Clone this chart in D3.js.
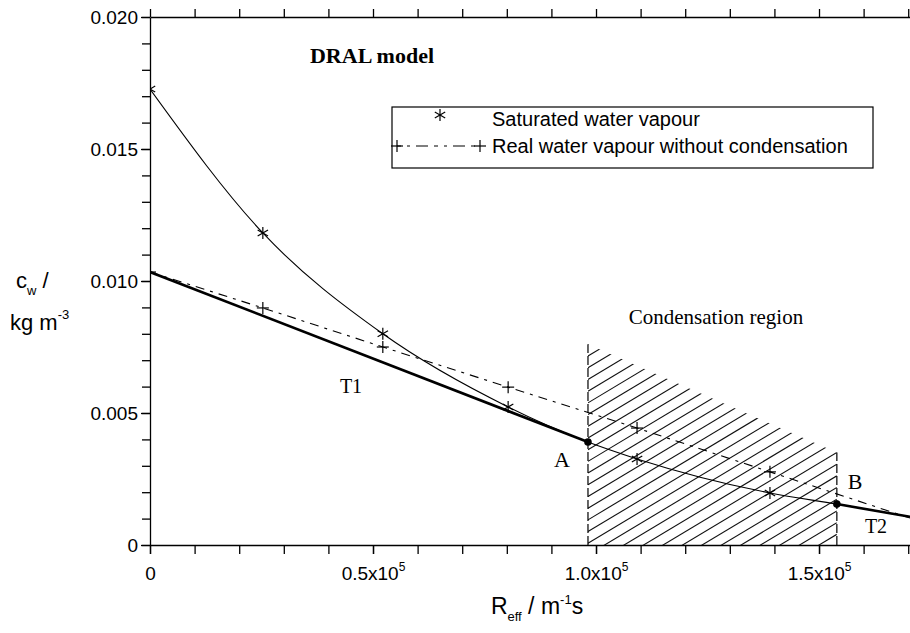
<!DOCTYPE html>
<html>
<head>
<meta charset="utf-8">
<script src="https://cdn.jsdelivr.net/npm/d3@7"></script>
<style>
body { margin: 0; background: #fff; }
svg { display: block; }
</style>
</head>
<body>
<div id="chart"></div>
<script>
// values
var satX = [0, 25300, 52200, 80300, 109200, 139000];
var satY = [0.01727, 0.01182, 0.00800, 0.00523, 0.00326, 0.00197];
var realX = [0, 25300, 52200, 80300, 109200, 139000, 170400];
var realY = [0.01034, 0.00898, 0.00750, 0.00598, 0.00443, 0.00277, 0.00102];
var pointNames = ["A", "B"];
var pointX = [98200, 154000];
var pointY = [0.00390, 0.00155];
var t1Start = [0, 0.01034];
var t2End = [170400, 0.00107];
var hatchTop = [0.0076, 0.0035];   // top of the hatched area at A and at B
var yTicks = [0, 0.005, 0.010, 0.015, 0.020];
var yTickLabels = ["0", "0.005", "0.010", "0.015", "0.020"];
var xTicks = [0, 50000, 100000, 150000];
var xTickLabels = ["0", "0.5x10", "1.0x10", "1.5x10"];
var xTickExp = ["", "5", "5", "5"];

var width = 910, height = 633;
var sans = "'Liberation Sans', Arial, sans-serif";
var serif = "'Liberation Serif', 'Times New Roman', serif";

var x = d3.scaleLinear().domain([0, 170400]).range([150, 910]);
var y = d3.scaleLinear().domain([0, 0.02]).range([545, 17]);

var svg = d3.select("#chart").append("svg")
    .attr("width", width)
    .attr("height", height);

svg.append("clipPath").attr("id", "plot")
    .append("rect")
    .attr("x", 150).attr("y", 17)
    .attr("width", 760).attr("height", 528);

var minorX = d3.range(0, 170001, 10000);
var minorY = d3.range(0, 0.02001, 0.001);

function styleAxis(g) {
    g.selectAll("path, line").attr("stroke", "#000").attr("stroke-width", 1.3);
    g.attr("font-family", sans).attr("font-size", 19);
    g.selectAll("text").attr("fill", "#000");
}

// top frame with small ticks
svg.append("g")
    .attr("transform", "translate(0,17)")
    .call(d3.axisTop(x).tickValues(minorX).tickSize(8).tickSizeOuter(0).tickFormat(""))
    .call(styleAxis);

// bottom axis
svg.append("g")
    .attr("transform", "translate(0,545)")
    .call(d3.axisBottom(x).tickValues(minorX).tickSize(9).tickSizeOuter(0).tickFormat(""))
    .call(styleAxis);

var xAxis = svg.append("g")
    .attr("transform", "translate(0,545)")
    .call(d3.axisBottom(x).tickValues(xTicks).tickSize(9).tickSizeOuter(0)
        .tickFormat(function (d, i) { return xTickLabels[i]; }))
    .call(styleAxis);
xAxis.select(".domain").remove();
xAxis.selectAll("text")
    .attr("y", 35).attr("dy", 0)
    .each(function (d, i) {
        if (xTickExp[i]) {
            d3.select(this).append("tspan")
                .attr("font-size", 12)
                .attr("dy", -9)
                .text(xTickExp[i]);
        }
    });

// left axis
svg.append("g")
    .attr("transform", "translate(150,0)")
    .call(d3.axisLeft(y).tickValues(minorY).tickSize(8).tickSizeOuter(0).tickFormat(""))
    .call(styleAxis);

var yAxis = svg.append("g")
    .attr("transform", "translate(150,0)")
    .call(d3.axisLeft(y).tickValues(yTicks).tickSize(9).tickSizeOuter(0)
        .tickFormat(function (d, i) { return yTickLabels[i]; }))
    .call(styleAxis);
yAxis.select(".domain").remove();
yAxis.selectAll("text").attr("x", -12);

var plot = svg.append("g").attr("clip-path", "url(#plot)");

// hatched condensation region
var xa = x(pointX[0]), xb = x(pointX[1]);
svg.append("clipPath").attr("id", "hatch")
    .append("path")
    .attr("d", d3.line()([[xa, y(0)], [xa, y(hatchTop[0])], [xb, y(hatchTop[1])], [xb, y(0)]]) + "Z");

var slope = 0.6, gap = 11.7;
var hatchLines = d3.range(-1, 32).map(function (k) {
    var c = y(hatchTop[0]) + k * gap;
    return [xa, c, xb, c - slope * (xb - xa)];
});
plot.append("g")
    .attr("clip-path", "url(#hatch)")
    .selectAll("line")
    .data(hatchLines)
    .enter()
    .append("line")
    .attr("x1", function (d) { return d[0]; })
    .attr("y1", function (d) { return d[1]; })
    .attr("x2", function (d) { return d[2]; })
    .attr("y2", function (d) { return d[3]; })
    .attr("stroke", "#111")
    .attr("stroke-width", 1.1);

plot.selectAll(".border")
    .data([[pointX[0], hatchTop[0]], [pointX[1], hatchTop[1]]])
    .enter()
    .append("line")
    .attr("x1", function (d) { return x(d[0]); })
    .attr("x2", function (d) { return x(d[0]); })
    .attr("y1", y(0))
    .attr("y2", function (d) { return y(d[1]); })
    .attr("stroke", "#000")
    .attr("stroke-width", 1.2)
    .attr("stroke-dasharray", "9,3");

// saturated vapour curve passes through A, B and runs out with T2
var satCurve = satX.map(function (v, i) { return [v, satY[i]]; })
    .concat(pointX.map(function (v, i) { return [v, pointY[i]]; }))
    .concat([t2End])
    .sort(function (a, b) { return a[0] - b[0]; });

var line = d3.line()
    .x(function (d) { return x(d[0]); })
    .y(function (d) { return y(d[1]); });

plot.append("path")
    .datum(satCurve)
    .attr("d", line.curve(d3.curveMonotoneX))
    .attr("fill", "none")
    .attr("stroke", "#000")
    .attr("stroke-width", 1.1);

var realPts = realX.map(function (v, i) { return [v, realY[i]]; });
plot.append("path")
    .datum(realPts)
    .attr("d", line.curve(d3.curveLinear))
    .attr("fill", "none")
    .attr("stroke", "#000")
    .attr("stroke-width", 1.1)
    .attr("stroke-dasharray", "9,6,3,6");

// thick lines T1 and T2
plot.selectAll(".thick")
    .data([[t1Start, [pointX[0], pointY[0]]], [[pointX[1], pointY[1]], t2End]])
    .enter()
    .append("path")
    .attr("d", line.curve(d3.curveLinear))
    .attr("fill", "none")
    .attr("stroke", "#000")
    .attr("stroke-width", 2.6);

// markers
function asterisk(g, cx, cy) {
    var r = 6;
    [90, 30, -30].forEach(function (a) {
        var dx = r * Math.cos(a * Math.PI / 180), dy = r * Math.sin(a * Math.PI / 180);
        g.append("line")
            .attr("x1", cx - dx).attr("y1", cy - dy)
            .attr("x2", cx + dx).attr("y2", cy + dy)
            .attr("stroke", "#000").attr("stroke-width", 1.2);
    });
}
function plus(g, cx, cy) {
    var r = 6;
    g.append("line").attr("x1", cx - r).attr("x2", cx + r).attr("y1", cy).attr("y2", cy)
        .attr("stroke", "#000").attr("stroke-width", 1.2);
    g.append("line").attr("x1", cx).attr("x2", cx).attr("y1", cy - r).attr("y2", cy + r)
        .attr("stroke", "#000").attr("stroke-width", 1.2);
}
satX.forEach(function (v, i) { asterisk(plot, x(v), y(satY[i])); });
realX.slice(0, -1).forEach(function (v, i) { plus(plot, x(v), y(realY[i])); });

plot.selectAll(".pt")
    .data(pointX)
    .enter()
    .append("circle")
    .attr("cx", function (d) { return x(d); })
    .attr("cy", function (d, i) { return y(pointY[i]); })
    .attr("r", 3.8)
    .attr("fill", "#000");

// labels inside the plot
var labels = [
    {t: "DRAL model", x: 372, y: 63, size: 22, weight: "bold"},
    {t: "Condensation region", x: 716, y: 324, size: 21},
    {t: "T1", x: 351, y: 393, size: 20},
    {t: pointNames[0], x: 562, y: 467, size: 22},
    {t: pointNames[1], x: 855, y: 489, size: 22},
    {t: "T2", x: 876, y: 533, size: 20}
];
svg.selectAll(".lbl")
    .data(labels)
    .enter()
    .append("text")
    .attr("x", function (d) { return d.x; })
    .attr("y", function (d) { return d.y; })
    .attr("text-anchor", "middle")
    .attr("font-family", serif)
    .attr("font-size", function (d) { return d.size; })
    .attr("font-weight", function (d) { return d.weight || "normal"; })
    .text(function (d) { return d.t; });

// legend
var legend = svg.append("g");
legend.append("rect")
    .attr("x", 392).attr("y", 107)
    .attr("width", 481).attr("height", 61)
    .attr("fill", "#fff")
    .attr("stroke", "#000")
    .attr("stroke-width", 1.2);
asterisk(legend, 440, 115);
legend.append("line")
    .attr("x1", 397).attr("x2", 480).attr("y1", 146).attr("y2", 146)
    .attr("stroke", "#000").attr("stroke-width", 1.1)
    .attr("stroke-dasharray", "4,6,3,6,12,6");
plus(legend, 397, 146);
plus(legend, 480, 146);
legend.selectAll("text")
    .data(["Saturated water vapour", "Real water vapour without condensation"])
    .enter()
    .append("text")
    .attr("x", 492)
    .attr("y", function (d, i) { return 126 + i * 27; })
    .attr("font-family", sans)
    .attr("font-size", 20)
    .text(function (d) { return d; });

// axis titles
var yt = svg.append("text").attr("font-family", sans).attr("font-size", 22)
    .attr("x", 16).attr("y", 288);
yt.append("tspan").text("c");
yt.append("tspan").attr("font-size", 13).attr("dy", 7).text("w");
yt.append("tspan").attr("dy", -7).text(" /");

var yt2 = svg.append("text").attr("font-family", sans).attr("font-size", 22)
    .attr("x", 10).attr("y", 330);
yt2.append("tspan").text("kg m");
yt2.append("tspan").attr("font-size", 13).attr("dy", -11).text("-3");

var xt = svg.append("text").attr("font-family", sans).attr("font-size", 23)
    .attr("x", 537).attr("y", 614).attr("text-anchor", "middle");
xt.append("tspan").text("R");
xt.append("tspan").attr("font-size", 13).attr("dy", 7).text("eff");
xt.append("tspan").attr("dy", -7).text(" / m");
xt.append("tspan").attr("font-size", 13).attr("dy", -10).text("-1");
xt.append("tspan").attr("dy", 10).text("s");
</script>
</body>
</html>
